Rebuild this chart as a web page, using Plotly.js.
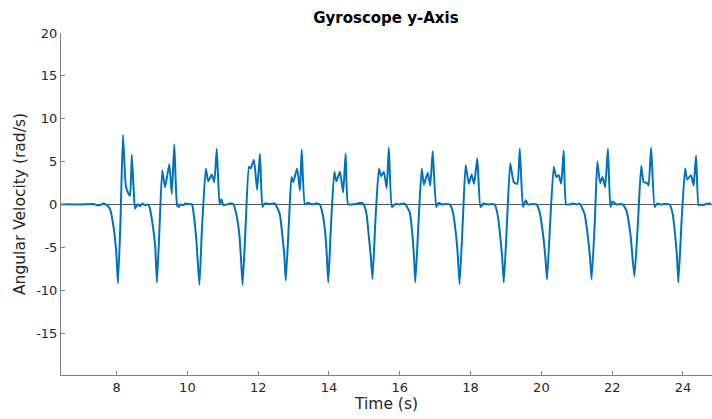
<!DOCTYPE html>
<html>
<head>
<meta charset="utf-8">
<script src="https://cdn.plot.ly/plotly-3.0.1.min.js"></script>
<style>
html,body{margin:0;padding:0;background:#fff;}
#chart{width:712px;height:419px;}
</style>
</head>
<body>
<div id="chart"></div>
<script>
// Time (s)
const time = [
 6.43, 6.70, 6.95, 7.15, 7.35, 7.45, 7.55, 7.62, 7.73, 7.82, 7.91, 7.99, 8.04, 8.11, 8.18, 8.26, 8.33, 8.38, 8.43, 8.48, 8.52, 8.59, 8.66, 8.73, 8.80, 8.88,
 8.93, 9.01, 9.09, 9.14, 9.21, 9.29, 9.37, 9.49, 9.56, 9.63, 9.71, 9.76, 9.80, 9.89, 9.94, 10.03,
 10.13, 10.19, 10.26, 10.34, 10.41, 10.52, 10.59, 10.69, 10.76, 10.83, 10.91, 10.96, 11.02, 11.12, 11.20, 11.30,
 11.39, 11.47, 11.51, 11.56, 11.64, 11.74, 11.79, 11.88, 11.97, 12.05, 12.12, 12.18, 12.24, 12.33, 12.47,
 12.61, 12.68, 12.74, 12.78, 12.87, 12.94, 12.99, 13.10, 13.18, 13.23, 13.32, 13.41, 13.52, 13.63, 13.74,
 13.83, 13.90, 13.94, 13.98, 14.05, 14.15, 14.21, 14.31, 14.40, 14.47, 14.54, 14.65, 14.76, 14.92, 14.98,
 15.06, 15.12, 15.18, 15.23, 15.31, 15.41, 15.47, 15.55, 15.63, 15.69, 15.78, 15.88, 16.00, 16.14,
 16.28, 16.35, 16.40, 16.44, 16.53, 16.62, 16.68, 16.79, 16.86, 16.93, 17.03, 17.10, 17.18, 17.29, 17.41,
 17.49, 17.58, 17.64, 17.69, 17.78, 17.86, 17.95, 18.03, 18.10, 18.19, 18.28, 18.37, 18.48, 18.60, 18.68,
 18.75, 18.82, 18.89, 18.94, 19.03, 19.12, 19.22, 19.32, 19.39, 19.48, 19.56, 19.62, 19.73, 19.86,
 19.95, 20.05, 20.11, 20.16, 20.25, 20.35, 20.42, 20.49, 20.56, 20.63, 20.70, 20.80, 20.89, 21.00, 21.08,
 21.22, 21.32, 21.38, 21.42, 21.51, 21.58, 21.66, 21.73, 21.80, 21.88, 21.95, 22.01, 22.12, 22.23,
 22.30, 22.40, 22.52, 22.57, 22.63, 22.73, 22.82, 22.89, 22.99, 23.03, 23.10, 23.20, 23.27, 23.37, 23.48, 23.62,
 23.71, 23.78, 23.83, 23.87, 23.96, 24.06, 24.12, 24.23, 24.30, 24.37, 24.44, 24.49, 24.56, 24.66, 24.79
];
// Angular velocity (rad/s)
const gyroY = [
 0.0, 0.02, -0.02, 0.03, 0.05, -0.1, -0.05, 0.1, -0.1, -0.6, -2.5, -5.5, -9.2, -2.0, 8.1, 2.2, 1.3, 1.0, 5.8, 2.0, -0.5, 0.0, -0.2, 0.1, -0.1, 0.0,
 -0.3, -2.1, -4.8, -9.1, -3.0, 4.0, 2.0, 4.7, 1.2, 7.0, -0.1, -0.3, 0.0, -0.1, 0.1, 0.05,
 0.0, -1.5, -4.5, -9.4, -3.0, 4.2, 2.7, 3.5, 2.6, 6.5, 0.0, 0.6, -0.1, 0.0, 0.1, 0.05,
 -1.3, -3.6, -6.0, -9.4, -3.0, 4.4, 4.2, 5.2, 1.7, 5.9, -0.3, 0.1, 0.1, 0.05, 0.1,
 -1.1, -3.5, -6.0, -8.9, -2.0, 3.2, 2.6, 4.2, 1.6, 6.4, 0.0, 0.2, 0.0, 0.1, 0.0,
 -1.3, -3.6, -6.0, -9.1, -3.0, 3.8, 2.7, 3.8, 1.4, 5.9, 0.0, 0.0, 0.05, 0.2, 0.0,
 -1.1, -3.5, -6.0, -8.7, -2.0, 4.2, 3.3, 3.8, 1.9, 6.6, -0.3, 0.05, 0.0, 0.1,
 -0.9, -3.2, -6.0, -9.1, -2.0, 4.2, 2.3, 3.7, 2.2, 6.2, -0.3, 0.2, 0.0, 0.05, 0.0,
 -0.7, -3.2, -6.0, -9.3, -2.0, 4.6, 2.4, 3.5, 2.4, 5.4, -0.3, 0.1, 0.0, 0.05, 0.0,
 -0.9, -3.0, -6.0, -9.1, -2.0, 4.8, 2.6, 2.4, 6.5, -0.3, 0.5, 0.0, 0.05, 0.0,
 -0.9, -3.6, -6.0, -8.75, -2.0, 4.4, 3.2, 3.4, 2.4, 6.3, 0.0, 0.0, 0.1, 0.0, 0.1,
 -1.1, -4.0, -6.5, -8.75, -2.0, 5.0, 2.5, 3.2, 2.0, 6.5, -0.3, 0.35, 0.0, 0.05,
 0.0, -0.7, -3.6, -6.0, -8.4, -2.0, 4.5, 2.6, 2.5, 2.2, 6.6, -0.3, 0.1, 0.0, 0.05, 0.0,
 -1.1, -3.6, -6.0, -9.1, -2.0, 4.2, 2.9, 3.4, 2.2, 5.7, -0.1, 0.0, -0.1, 0.05, 0.1
];
const xTicks = [8, 10, 12, 14, 16, 18, 20, 22, 24];
const yTicks = [-15, -10, -5, 0, 5, 10, 15, 20];

const font = "DejaVu Sans, sans-serif";
const trace = {
  x: time, y: gyroY, type: 'scatter', mode: 'lines',
  line: {color: '#0072BD', width: 2, shape: 'spline', smoothing: 0.45}, hoverinfo: 'skip'
};
const layout = {
  width: 712, height: 419,
  margin: {l: 61, r: 0, t: 33, b: 44},
  paper_bgcolor: '#fff', plot_bgcolor: '#fff',
  showlegend: false,
  font: {family: font, color: '#262626', size: 13},
  title: {text: '<b>Gyroscope y-Axis</b>', font: {family: font, size: 15, color: '#000'}, x: 0.542, xanchor: 'center', y: 0.957, yanchor: 'middle'},
  xaxis: {
    range: [6.43, 24.82], tickvals: xTicks, ticktext: xTicks.map(String),
    ticks: 'inside', ticklen: 4, tickcolor: '#808080', tickwidth: 1,
    showline: true, linecolor: '#808080', linewidth: 1, mirror: false,
    showgrid: false, zeroline: false,
    tickfont: {family: font, size: 13, color: '#262626'},
    title: {text: 'Time (s)', font: {family: font, size: 15.5, color: '#262626'}, standoff: 4}
  },
  yaxis: {
    range: [-19.9, 20], tickvals: yTicks, ticktext: yTicks.map(String),
    ticks: 'inside', ticklen: 4, tickcolor: '#808080', tickwidth: 1,
    showline: true, linecolor: '#808080', linewidth: 1, mirror: false,
    showgrid: false, zeroline: true, zerolinecolor: '#555555', zerolinewidth: 1,
    tickfont: {family: font, size: 13, color: '#262626'},
    title: {text: 'Angular Velocity (rad/s)', font: {family: font, size: 15.5, color: '#262626'}, standoff: 6}
  }
};
Plotly.newPlot('chart', [trace], layout, {staticPlot: true, displayModeBar: false});
</script>
</body>
</html>
